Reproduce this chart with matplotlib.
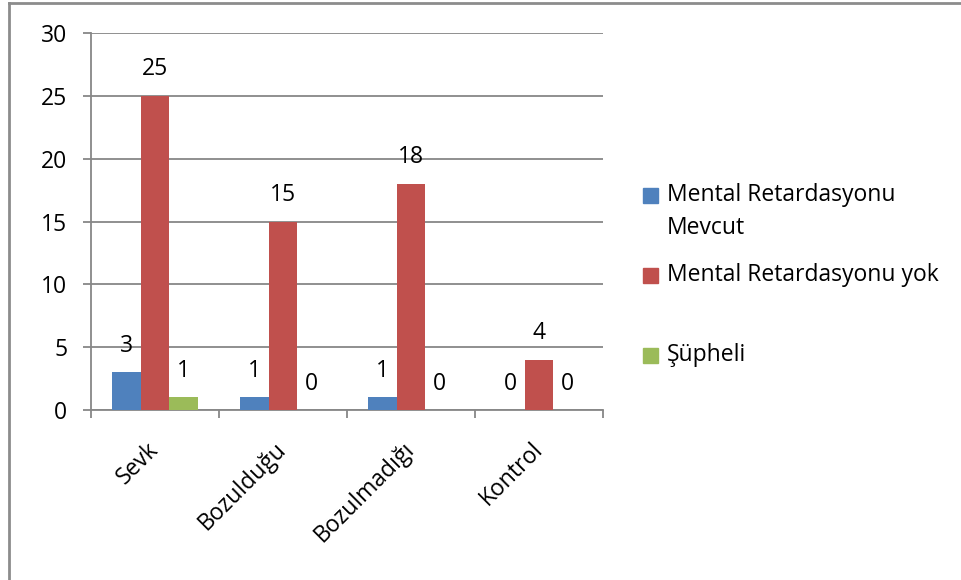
import numpy as np
import matplotlib
matplotlib.use("Agg")
import matplotlib.pyplot as plt
from matplotlib.patches import Rectangle
from matplotlib.lines import Line2D

plt.rcParams['font.family'] = ['Open Sans', 'DejaVu Sans']

# categories and counts per group
categories = ['Sevk', 'Bozulduğu', 'Bozulmadığı', 'Kontrol']
mr_mevcut = [3, 1, 1, 0]
mr_yok = [25, 15, 18, 4]
supheli = [1, 0, 0, 0]
series_names = ['Mental Retardasyonu\nMevcut', 'Mental Retardasyonu yok', 'Şüpheli']
colors = ['#4F81BD', '#C0504D', '#9BBB59']
yticks = [0, 5, 10, 15, 20, 25, 30]

FS = 16.5

fig = plt.figure(figsize=(9.61, 5.80), dpi=100)
ax = fig.add_axes([0.0947, 0.2931, 0.5328, 0.6500])

x = np.arange(len(categories))
w = 0.222
grid_col = '#878787'

series = [mr_mevcut, mr_yok, supheli]
offsets = [-w, 0, w]
for vals, off, col in zip(series, offsets, colors):
    bars = ax.bar(x + off, vals, width=w, color=col, zorder=3)
    for b, v in zip(bars, vals):
        ax.annotate(str(v), (b.get_x() + b.get_width() / 2, v),
                    xytext=(0, 19), textcoords='offset points',
                    ha='center', va='center', fontsize=FS)

ax.set_xlim(-0.5, 3.5)
ax.set_ylim(0, 30)
ax.set_yticks(yticks)
ax.yaxis.grid(True, color=grid_col, linewidth=1.3, zorder=0)
ax.set_axisbelow(True)

ax.set_xticks(x)
ax.set_xticklabels(categories, rotation=45, ha='right', va='center',
                   rotation_mode='anchor', fontsize=FS)
ax.set_xticks(np.arange(-0.5, 4, 1), minor=True)
ax.tick_params(axis='x', which='major', length=0, pad=26)
ax.tick_params(axis='x', which='minor', length=6, width=1.3, color=grid_col, direction='out')
ax.tick_params(axis='y', length=6, width=1.3, color=grid_col, labelsize=FS, pad=11)

for s in ['top', 'right']:
    ax.spines[s].set_visible(False)
for s in ['left', 'bottom']:
    ax.spines[s].set_color(grid_col)
    ax.spines[s].set_linewidth(1.3)

# legend drawn at the right side
W, H = 961, 580
legend_y = [196, 276, 356]
for name, col, yc in zip(series_names, colors, legend_y):
    fig.add_artist(Rectangle((643 / W, 1 - (yc + 7) / H), 15 / W, 15 / H,
                             transform=fig.transFigure, color=col))
    fig.text(667 / W, 1 - (yc - 13) / H, name, ha='left', va='top',
             fontsize=FS, linespacing=1.5)

# chart frame
fig.add_artist(Line2D([9 / W, 9 / W], [0, 1 - 3 / H], transform=fig.transFigure,
                      color='#8c8c8c', linewidth=2))
fig.add_artist(Line2D([9 / W, 1], [1 - 3 / H, 1 - 3 / H], transform=fig.transFigure,
                      color='#8c8c8c', linewidth=2))

fig.savefig('out.png', dpi=100)
